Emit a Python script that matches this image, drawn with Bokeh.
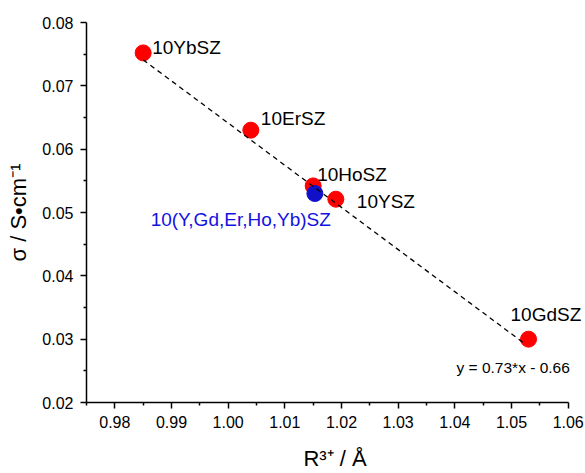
from bokeh.plotting import figure
from bokeh.models import (Range1d, FixedTicker, PrintfTickFormatter, ColumnDataSource,
                          LabelSet, Label)
from bokeh.core.properties import value
from bokeh.embed import file_html
from bokeh.resources import INLINE

# ---- data ----
names = ["10YbSZ", "10ErSZ", "10HoSZ", "10YSZ", "10GdSZ"]
radius = [0.985, 1.004, 1.015, 1.019, 1.053]
sigma = [0.0752, 0.0630, 0.0542, 0.0521, 0.0300]

mix_name = ["10(Y,Gd,Er,Ho,Yb)SZ"]
mix_radius = [1.0153]
mix_sigma = [0.0530]

fit_x = [0.985, 1.052]
fit_y = [0.0741, 0.0295]
equation = "y = 0.73*x - 0.66"

x_ticks = [0.98, 0.99, 1.00, 1.01, 1.02, 1.03, 1.04, 1.05, 1.06]
x_minor = [0.975, 0.985, 0.995, 1.005, 1.015, 1.025, 1.035, 1.045, 1.055]
y_ticks = [0.02, 0.03, 0.04, 0.05, 0.06, 0.07, 0.08]
y_minor = [0.025, 0.035, 0.045, 0.055, 0.065, 0.075]

# label offsets (screen px, y up), styling only
label_dx = [9, 10, 4, 21, -18]
label_dy = [5, 12, 11, -2, 25]

FONT = "Liberation Sans"

# frame extends slightly past 1.06 so the right-most label is not clipped;
# the axis itself is bounded to 0.975..1.06
p = figure(width=585, height=473, output_backend="svg", toolbar_location=None,
           x_range=Range1d(0.975, 1.0627), y_range=Range1d(0.02, 0.08),
           min_border_left=86, min_border_right=2, min_border_top=22,
           min_border_bottom=64)
p.outline_line_color = None
p.xgrid.visible = False
p.ygrid.visible = False
p.background_fill_color = "white"
p.border_fill_color = "white"

p.xaxis.bounds = (0.975, 1.06)
p.xaxis.ticker = FixedTicker(ticks=x_ticks, minor_ticks=x_minor)
p.yaxis.ticker = FixedTicker(ticks=y_ticks, minor_ticks=y_minor)
p.xaxis.formatter = PrintfTickFormatter(format="%.2f")
p.yaxis.formatter = PrintfTickFormatter(format="%.2f")

for ax in (p.xaxis, p.yaxis):
    ax.axis_line_width = 1.5
    ax.axis_line_color = "black"
    ax.major_tick_line_width = 1.5
    ax.major_tick_line_color = "black"
    ax.minor_tick_line_width = 1.5
    ax.minor_tick_line_color = "black"
    ax.major_tick_in = 0
    ax.major_tick_out = 6
    ax.minor_tick_in = 0
    ax.minor_tick_out = 3
    ax.major_label_text_font = FONT
    ax.major_label_text_font_size = "16px"
    ax.major_label_text_color = "black"
    ax.major_label_standoff = 7
    ax.axis_label_text_font = FONT
    ax.axis_label_text_font_size = "22px"
    ax.axis_label_text_font_style = "normal"
    ax.axis_label_text_color = "black"

p.xaxis.axis_label_standoff = 15
p.yaxis.axis_label_standoff = 8
p.xaxis.axis_label = "R³⁺ / Å"
p.yaxis.axis_label = "σ / S•cm⁻¹"

src = ColumnDataSource(dict(x=radius, y=sigma, name=names, dx=label_dx, dy=label_dy))
mix = ColumnDataSource(dict(x=mix_radius, y=mix_sigma, name=mix_name))

p.scatter("x", "y", source=src, size=16, fill_color="#ff0000", line_color="#ff0000")
p.scatter("x", "y", source=mix, size=16, fill_color="#1010c8", line_color="#1010c8")
p.line(fit_x, fit_y, line_color="black", line_width=1.3, line_dash="5 4")

p.add_layout(LabelSet(x="x", y="y", text="name", source=src, x_offset="dx", y_offset="dy",
                      text_font=value(FONT), text_font_size="19px", text_color="black",
                      text_align="left", text_baseline="middle"))
p.add_layout(LabelSet(x="x", y="y", text="name", source=mix, x_offset=16, y_offset=-26,
                      text_font=value(FONT), text_font_size="19px", text_color="#1212e0",
                      text_align="right", text_baseline="middle"))
p.add_layout(Label(x=radius[4], y=sigma[4], text=equation, x_offset=-72, y_offset=-28,
                   text_font=FONT, text_font_size="15.5px", text_color="black",
                   text_align="left", text_baseline="middle"))

open("out.html", "w").write(file_html(p, INLINE))
